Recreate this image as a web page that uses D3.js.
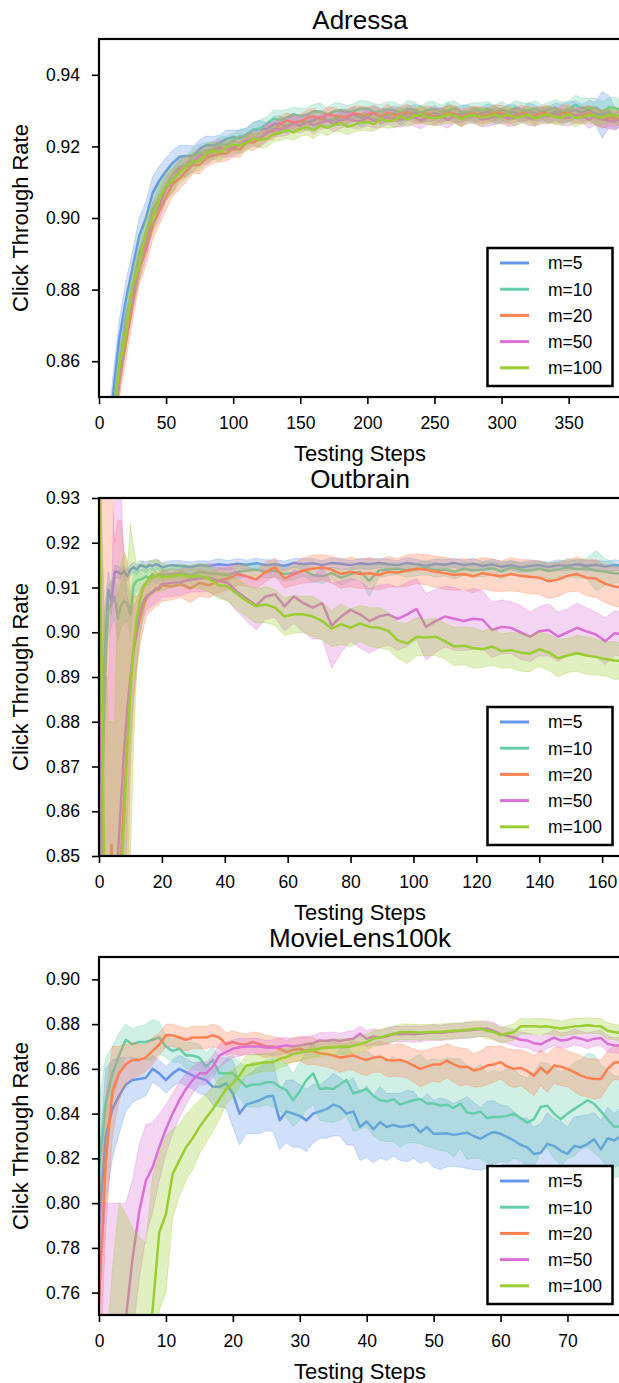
<!DOCTYPE html>
<html>
<head>
<meta charset="utf-8">
<script src="https://cdnjs.cloudflare.com/ajax/libs/d3/7.8.5/d3.min.js"></script>
<style>
  body { margin: 0; background: #fff; }
  svg { display: block; font-family: "Liberation Sans", Arial, sans-serif; }
</style>
</head>
<body>
<div class="chart"></div>
<script>
// Click through rate vs testing steps, three datasets, five values of m

var seriesNames = ['m=5', 'm=10', 'm=20', 'm=50', 'm=100'];
var seriesColors = ['#6495ed', '#66cdaa', '#ff7f50', '#da70d6', '#9acd32'];

// ---- Adressa ----
var adressaSteps = [0,5,10,15,20,25,30,35,40,45,
  50,55,60,65,70,75,80,85,90,95,
  100,105,110,115,120,125,130,135,140,145,
  150,155,160,165,170,175,180,185,190,195,
  200,205,210,215,220,225,230,235,240,245,
  250,255,260,265,270,275,280,285,290,295,
  300,305,310,315,320,325,330,335,340,345,
  350,355,360,365,370,375,380,385,390];
var adressaXTicks = [0, 50, 100, 150, 200, 250, 300, 350];
var adressaYTicks = [0.86, 0.88, 0.90, 0.92, 0.94];

var adressaM5 = [.800,.828,.849,.866,.877,.886,.895,.900,.907,.9105,
  .9131,.9154,.9171,.9173,.9173,.9192,.9204,.9203,.921,.9221,
  .9226,.9223,.9233,.9246,.9249,.9248,.9261,.9263,.9256,.9266,
  .927,.9267,.9273,.9282,.9273,.9274,.9282,.9282,.929,.928,
  .9284,.9293,.9283,.9289,.9293,.9283,.9293,.9295,.929,.9287,
  .9294,.9285,.9298,.9289,.929,.9296,.9286,.9293,.9297,.9288,
  .9287,.9294,.9296,.9286,.9299,.9293,.9289,.9288,.9297,.9292,
  .9296,.9302,.9294,.9303,.9292,.9288,.9297,.9275,.9283];
var adressaM10 = [.795,.821,.843,.858,.872,.880,.890,.895,.9025,.9055,
  .909,.9122,.9144,.9144,.9172,.9181,.9187,.9191,.9205,.9205,
  .9216,.9229,.9227,.9247,.9249,.9263,.9277,.9273,.9281,.929,
  .9284,.9289,.9298,.9297,.9288,.9298,.9301,.9296,.9299,.9306,
  .9306,.9295,.9298,.9304,.9301,.9296,.9305,.9303,.9294,.9302,
  .9305,.9297,.9301,.9307,.9296,.9294,.9302,.93,.9306,.9295,
  .9304,.9295,.9308,.9299,.93,.9306,.9296,.9303,.9307,.9298,
  .9303,.9316,.9307,.9309,.9309,.9296,.9309,.9307,.9297];
var adressaM20 = [.790,.816,.837,.854,.865,.876,.886,.891,.898,.902,
  .9058,.9096,.911,.9131,.9149,.9148,.9168,.9175,.9179,.9181,
  .9193,.9191,.9212,.9211,.9221,.924,.9243,.9262,.9272,.9267,
  .9269,.9279,.9284,.9276,.929,.9286,.9283,.9283,.9293,.9288,
  .929,.9293,.9283,.9294,.9286,.9292,.9296,.9284,.9287,.9293,
  .9284,.9287,.9294,.9291,.9281,.929,.9292,.9286,.9288,.9294,
  .9295,.9284,.9287,.9293,.929,.9285,.9294,.9292,.9283,.9291,
  .9294,.9285,.9287,.9294,.9281,.9276,.928,.9276,.9284];
var adressaM50 = [.792,.820,.839,.855,.869,.878,.887,.893,.9005,.9035,
  .9083,.9104,.9137,.9143,.9154,.9175,.9175,.9187,.9196,.9192,
  .9196,.9204,.9216,.9223,.9221,.9238,.9248,.9248,.9254,.9263,
  .9258,.9268,.9259,.9267,.9272,.9263,.9274,.9277,.9272,.927,
  .9281,.9271,.9274,.9281,.9278,.9274,.9283,.9281,.9272,.9281,
  .9281,.9284,.9274,.9285,.9277,.9283,.9287,.9275,.9278,.9284,
  .9285,.9277,.9282,.9289,.9279,.9278,.9287,.9285,.9292,.9281,
  .928,.9287,.9287,.9274,.9285,.9277,.9271,.927,.928];
var adressaM100 = [.793,.819,.841,.858,.868,.881,.887,.896,.900,.9055,
  .9091,.9105,.9128,.9144,.9156,.9161,.918,.9188,.9184,.9197,
  .9205,.9202,.9211,.9222,.9218,.9222,.9234,.9237,.9246,.9239,
  .9248,.9254,.9245,.9258,.9252,.926,.9265,.9255,.926,.9267,
  .9268,.9262,.9277,.927,.9274,.9283,.9275,.9285,.929,.9281,
  .9279,.9282,.9289,.9286,.9276,.9285,.9287,.9281,.9283,.9289,
  .9282,.929,.9279,.9285,.9288,.9277,.9287,.9289,.9283,.928,
  .929,.9279,.9282,.9288,.9285,.928,.9289,.9287,.9278];

var adressaSd5 = [.005,.005,.0055,.005,.0052,.0048,.005,.0046,.0045,.004,
  .0038,.0035,.0032,.003,.0028,.0026,.0025,.0024,.0022,.0024,
  .002,.0023,.0019,.0022,.0024,.0018,.0022,.0023,.0019,.0021,
  .0018,.0022,.0024,.0019,.0021,.0018,.0023,.002,.0019,.0024,
  .002,.0019,.0023,.0018,.002,.0024,.0019,.0022,.0023,.0018,
  .0021,.0019,.0023,.002,.0024,.0019,.0021,.0018,.0022,.0024,
  .0019,.0023,.002,.0019,.0024,.0021,.0018,.0022,.0024,.0026,
  .0027,.0025,.0023,.0026,.0032,.0065,.0045,.0028,.0022];
var adressaSd10 = [.0045,.0045,.005,.0046,.0048,.0044,.0045,.0042,.004,.0038,
  .0034,.0032,.003,.0028,.0026,.0025,.0024,.0023,.0021,.0023,
  .002,.0019,.0023,.002,.0024,.002,.0025,.0027,.0022,.002,
  .0022,.0019,.002,.0024,.0019,.0023,.002,.0018,.0021,.0023,
  .002,.0024,.0019,.0021,.0023,.0019,.0024,.002,.0019,.0022,
  .002,.0018,.0023,.002,.0019,.0024,.002,.0022,.0019,.002,
  .0022,.0019,.002,.0024,.0019,.0022,.002,.0019,.0024,.0026,
  .0024,.0027,.0028,.0025,.0026,.0029,.0027,.003,.0027];
var adressaSd20 = [.005,.005,.0052,.0048,.0047,.0046,.0045,.0042,.004,.0038,
  .0036,.0034,.0031,.0028,.0026,.0025,.0024,.0023,.0023,.0022,
  .0023,.0021,.002,.0023,.0019,.0022,.0024,.002,.0022,.0019,
  .002,.0023,.0022,.0019,.002,.0023,.0019,.0022,.002,.0024,
  .0019,.0022,.002,.0024,.0019,.002,.0022,.0019,.0023,.002,
  .0022,.0019,.002,.0024,.0022,.0019,.002,.0023,.0019,.0022,
  .002,.0023,.0019,.0022,.002,.0024,.0019,.0022,.002,.0023,
  .0022,.0019,.0024,.002,.0022,.0025,.0023,.0022,.002];
var adressaSd50 = [.0048,.0048,.0052,.0047,.0046,.0045,.0044,.0042,.004,.0037,
  .0035,.0032,.003,.0028,.0026,.0025,.0025,.0024,.0023,.0023,
  .0022,.0023,.002,.0022,.0023,.0025,.0021,.002,.0023,.0022,
  .002,.0022,.0024,.002,.0019,.0022,.0024,.002,.0022,.0019,
  .0024,.002,.0022,.0019,.0024,.002,.0022,.0025,.0023,.002,
  .0022,.0025,.0023,.002,.0022,.0019,.0024,.002,.0022,.0023,
  .002,.0022,.0024,.0019,.0022,.002,.0024,.0022,.002,.0022,
  .0023,.0022,.002,.0024,.0025,.0023,.0022,.0024,.002];
var adressaSd100 = [.0048,.0048,.0052,.0049,.0047,.0046,.0046,.0044,.0042,.004,
  .0038,.0035,.0032,.003,.0028,.0027,.0026,.0025,.0024,.0023,
  .0023,.0022,.0024,.002,.0022,.0024,.0022,.002,.0024,.0022,
  .002,.0022,.0024,.002,.0022,.002,.0024,.0022,.002,.0022,
  .0024,.002,.0022,.0019,.0022,.0024,.002,.0022,.0024,.002,
  .0022,.002,.0024,.0022,.002,.0019,.0022,.0024,.002,.0022,
  .002,.0024,.0022,.002,.0024,.0022,.002,.0024,.0022,.002,
  .0022,.0024,.002,.0022,.0024,.002,.0022,.0024,.002];

// ---- Outbrain ----
var outbrainSteps = [0,1,2,3,4,5,6,7,8,9,
  10,11,12,13,14,15,16,17,18,19,
  20,23,26,29,32,35,38,41,44,47,
  50,53,56,59,62,65,68,71,74,77,
  80,83,86,89,92,95,98,101,104,107,
  110,113,116,119,122,125,128,131,134,137,
  140,143,146,149,152,155,158,161,164,167];
var outbrainXTicks = [0, 20, 40, 60, 80, 100, 120, 140, 160];
var outbrainYTicks = [0.85, 0.86, 0.87, 0.88, 0.89, 0.90, 0.91, 0.92, 0.93];

var outbrainM5 = [.865,.880,.897,.9095,.907,.9135,.9135,.913,.9137,.9125,
  .914,.9145,.914,.915,.9148,.9145,.915,.9148,.9152,.915,
  .9145,.915,.9148,.9146,.915,.9148,.9152,.915,.9153,.9151,
  .9154,.915,.9152,.9148,.9155,.9152,.9154,.915,.9155,.9153,
  .915,.9154,.9152,.9155,.9152,.915,.9155,.9152,.9148,.9153,
  .9151,.9155,.915,.9153,.9148,.9152,.9146,.915,.9145,.9148,
  .915,.9146,.915,.9148,.9152,.9148,.9151,.9147,.915,.9148];
var outbrainM10 = [.840,.865,.893,.905,.9065,.908,.903,.906,.907,.9065,
  .904,.9105,.9115,.9118,.912,.9125,.912,.913,.9125,.913,
  .9128,.913,.9132,.9128,.9135,.9132,.913,.9128,.9135,.9138,
  .914,.9135,.9138,.913,.9132,.9138,.9128,.9125,.9132,.9122,
  .913,.9135,.9115,.9138,.914,.9142,.9138,.914,.9145,.9138,
  .914,.9135,.9142,.9138,.914,.9143,.9136,.9145,.914,.9138,
  .9142,.9137,.914,.9145,.9141,.9143,.9138,.9135,.9132,.913];
var outbrainM20 = [.845,.82,.815,.83,.8525,.83,.835,.85,.863,.876,
  .889,.896,.900,.903,.9055,.9075,.9085,.909,.9098,.9095,
  .9105,.9102,.9108,.9098,.911,.9105,.9115,.912,.913,.9125,
  .9118,.9135,.9145,.912,.913,.9138,.9142,.9145,.914,.913,
  .9135,.913,.9132,.9128,.9135,.9133,.9138,.9142,.914,.9135,
  .9132,.9128,.913,.9125,.9132,.9128,.9125,.913,.9126,.9124,
  .9122,.9114,.9118,.9126,.913,.9122,.912,.9108,.9102,.910];
var outbrainM50 = [.92,.86,.80,.79,.80,.835,.85,.862,.874,.883,
  .890,.896,.900,.9045,.9068,.908,.9085,.909,.9095,.910,
  .9108,.911,.9112,.9118,.912,.9122,.9115,.911,.909,.9075,
  .906,.908,.9085,.9058,.908,.9065,.9055,.9065,.9015,.9035,
  .905,.904,.9025,.9035,.904,.903,.904,.9052,.9012,.9025,
  .9035,.903,.9025,.903,.9028,.9005,.9012,.901,.900,.899,
  .9002,.9005,.899,.900,.901,.9002,.8995,.898,.8998,.8995];
var outbrainM100 = [.935,.88,.83,.80,.80,.805,.82,.845,.858,.874,
  .887,.897,.903,.907,.9098,.911,.912,.9122,.9125,.9127,
  .9123,.9125,.9128,.9124,.9126,.912,.9105,.9102,.9085,.907,
  .9058,.9062,.9055,.9035,.904,.904,.9035,.9025,.9008,.9018,
  .901,.902,.9012,.901,.9003,.8982,.8975,.899,.8988,.899,
  .898,.8968,.897,.8965,.8962,.8968,.8958,.896,.8955,.8952,
  .8962,.8955,.8942,.8948,.8953,.8948,.8945,.894,.8937,.8935];

var outbrainSd5 = [.02,.015,.01,.004,.003,.0015,.0013,.0012,.0012,.0013,
  .0012,.0011,.0012,.001,.0011,.0012,.001,.0011,.0012,.001,
  .0011,.001,.0012,.0011,.001,.0011,.0012,.001,.0011,.001,
  .0011,.0012,.001,.0011,.001,.0012,.0011,.001,.0011,.0012,
  .001,.0011,.0012,.001,.0011,.001,.0012,.0011,.001,.0011,
  .0012,.001,.0011,.0012,.001,.0011,.0012,.001,.0011,.0012,
  .001,.0011,.0012,.001,.0011,.0012,.001,.0011,.0012,.001];
var outbrainSd10 = [.03,.02,.012,.006,.005,.005,.005,.005,.005,.004,
  .004,.003,.0025,.002,.002,.0018,.0016,.0015,.0015,.0014,
  .0014,.0013,.0014,.0015,.0013,.0014,.0015,.0013,.0014,.0015,
  .0014,.0013,.0015,.0016,.0014,.0013,.0015,.0016,.0014,.0017,
  .0015,.0014,.0035,.0016,.0014,.0013,.0015,.0014,.0016,.0015,
  .0014,.0016,.0015,.0014,.0016,.0015,.0017,.0016,.0015,.0018,
  .0016,.0018,.0017,.0019,.002,.0022,.0045,.003,.0022,.002];
var outbrainSd20 = [.06,.12,.12,.11,.08,.09,.09,.075,.055,.04,
  .02,.012,.008,.006,.005,.004,.004,.004,.004,.0035,
  .0035,.003,.003,.0032,.003,.0028,.0027,.0025,.0025,.0022,
  .002,.0022,.002,.0021,.0025,.0028,.003,.0028,.003,.0032,
  .0033,.0032,.0035,.0033,.0034,.0032,.0035,.0033,.0034,.0035,
  .0036,.0034,.0035,.0037,.0035,.0036,.0034,.0037,.0036,.0038,
  .0037,.0039,.0038,.0036,.0038,.004,.0042,.0042,.0044,.0045];
var outbrainSd50 = [.03,.06,.09,.10,.11,.10,.085,.07,.04,.025,
  .015,.01,.007,.005,.004,.003,.003,.003,.003,.003,
  .003,.003,.003,.0028,.003,.0032,.0035,.004,.0045,.005,
  .0055,.005,.0052,.0055,.006,.0065,.007,.008,.0095,.008,
  .007,.0075,.0072,.007,.0068,.007,.0072,.0068,.0075,.007,
  .0068,.007,.0066,.0068,.0065,.0062,.006,.0058,.006,.0056,
  .0055,.0058,.0055,.0052,.0055,.0053,.005,.0052,.005,.0048];
var outbrainSd100 = [.01,.04,.07,.08,.08,.075,.09,.07,.06,.04,
  .037,.022,.012,.008,.006,.004,.004,.004,.0035,.0035,
  .003,.0025,.0025,.0025,.0028,.003,.003,.0032,.0035,.0035,
  .0038,.004,.004,.0042,.0042,.004,.0045,.0042,.004,.0045,
  .0042,.004,.0043,.0045,.0042,.004,.0045,.0043,.004,.0042,
  .004,.0043,.0042,.0045,.004,.0042,.0038,.004,.0042,.004,
  .0038,.004,.0042,.0038,.004,.0042,.004,.0038,.0042,.004];

// ---- MovieLens100k ----
var movieSteps = [0,1,2,3,4,5,6,7,8,9,
  10,11,12,13,14,15,16,17,18,19,
  20,21,22,23,24,25,26,27,28,29,
  30,31,32,33,34,35,36,37,38,39,
  40,41,42,43,44,45,46,47,48,49,
  50,51,52,53,54,55,56,57,58,59,
  60,61,62,63,64,65,66,67,68,69,
  70,71,72,73,74,75,76,77,78];
var movieXTicks = [0, 10, 20, 30, 40, 50, 60, 70];
var movieYTicks = [0.76, 0.78, 0.80, 0.82, 0.84, 0.86, 0.88, 0.90];

var movieM5 = [.790,.830,.842,.848,.853,.855,.8555,.856,.860,.858,
  .855,.858,.860,.8585,.857,.856,.855,.852,.852,.8535,
  .849,.840,.844,.845,.846,.8475,.848,.837,.841,.840,
  .839,.837,.840,.841,.842,.844,.843,.840,.841,.834,
  .8365,.833,.8362,.834,.835,.834,.8345,.835,.8317,.834,
  .831,.831,.8312,.8305,.831,.8315,.830,.8287,.8305,.8318,
  .831,.8295,.828,.826,.8249,.822,.8225,.8265,.8255,.8234,
  .822,.8255,.825,.8264,.8285,.824,.829,.828,.830];
var movieM10 = [.815,.845,.858,.866,.873,.871,.872,.872,.873,.874,
  .870,.868,.869,.866,.866,.865,.861,.864,.858,.858,
  .858,.855,.852,.853,.853,.854,.854,.852,.8505,.846,
  .850,.855,.858,.851,.8515,.851,.853,.855,.849,.850,
  .851,.848,.846,.8455,.8465,.844,.845,.846,.8465,.8445,
  .8445,.8435,.844,.8425,.8445,.8405,.840,.841,.838,.8385,
  .8385,.839,.840,.838,.836,.8375,.843,.8435,.840,.8375,
  .840,.842,.844,.846,.8443,.841,.8375,.834,.8345];
var movieM20 = [.755,.818,.850,.858,.862,.864,.864,.865,.868,.871,
  .875,.875,.874,.873,.874,.874,.874,.875,.874,.871,
  .872,.871,.871,.872,.871,.870,.870,.869,.8675,.8685,
  .869,.868,.868,.867,.8667,.866,.865,.8655,.866,.8648,
  .864,.865,.8655,.864,.8637,.864,.863,.8615,.860,.861,
  .862,.862,.8637,.862,.8608,.861,.8593,.860,.8615,.862,
  .863,.861,.860,.8605,.859,.857,.8605,.858,.8615,.861,
  .860,.8585,.857,.856,.8555,.8555,.860,.8628,.863];
var movieM50 = [.70,.71,.72,.735,.748,.775,.796,.81,.816,.825,
  .833,.840,.846,.851,.855,.858,.858,.861,.866,.8675,
  .869,.8697,.870,.870,.870,.8695,.8695,.870,.8705,.870,
  .8705,.871,.8715,.8727,.8725,.873,.8725,.873,.8735,.8757,
  .8735,.8745,.874,.8745,.8757,.8755,.8757,.8755,.8757,.876,
  .8763,.876,.8765,.8767,.877,.8772,.8775,.8778,.878,.877,
  .8755,.8748,.874,.873,.8727,.8715,.871,.8725,.874,.8727,
  .873,.8742,.8735,.8725,.8735,.8738,.8712,.8705,.8705];
var movieM100 = [.66,.67,.69,.71,.715,.72,.725,.735,.752,.787,
  .795,.813,.819,.825,.829,.834,.838,.842,.8465,.851,
  .8535,.857,.8615,.862,.8625,.863,.863,.8645,.8652,.8667,
  .8672,.868,.8685,.869,.8697,.8695,.870,.8698,.8703,.871,
  .872,.8735,.874,.875,.8755,.8765,.8765,.8765,.8762,.8765,
  .8765,.8765,.8768,.877,.8772,.8775,.8778,.878,.877,.8765,
  .875,.8758,.8765,.879,.879,.879,.8788,.879,.8785,.878,
  .8785,.879,.8792,.8795,.8792,.879,.877,.8765,.876];

var movieSd5 = [.03,.03,.022,.017,.012,.01,.009,.008,.006,.006,
  .006,.006,.006,.006,.006,.007,.007,.008,.009,.011,
  .015,.014,.013,.014,.015,.015,.016,.013,.014,.015,
  .014,.014,.013,.012,.013,.014,.013,.014,.015,.015,
  .016,.015,.016,.015,.014,.015,.016,.015,.014,.015,
  .015,.016,.015,.014,.015,.016,.015,.014,.015,.014,
  .013,.014,.013,.012,.013,.012,.013,.014,.012,.013,
  .012,.013,.014,.013,.012,.013,.014,.012,.013];
var movieSd10 = [.03,.02,.012,.01,.007,.007,.007,.008,.009,.007,
  .005,.005,.006,.006,.006,.006,.006,.006,.007,.007,
  .008,.008,.009,.01,.01,.01,.011,.011,.012,.012,
  .013,.013,.014,.014,.015,.015,.016,.016,.017,.017,
  .017,.018,.018,.018,.019,.019,.018,.019,.02,.019,
  .02,.02,.021,.022,.02,.021,.02,.021,.02,.021,
  .02,.021,.02,.019,.02,.021,.02,.019,.02,.021,
  .02,.021,.02,.021,.022,.021,.022,.023,.022];
var movieSd20 = [.04,.03,.02,.012,.009,.008,.007,.006,.006,.005,
  .005,.005,.005,.005,.005,.005,.005,.005,.005,.005,
  .005,.005,.0045,.0045,.005,.005,.0045,.005,.005,.0055,
  .0055,.006,.006,.0055,.006,.006,.0065,.006,.0065,.007,
  .007,.0065,.007,.0075,.007,.0075,.007,.0075,.008,.0075,
  .0075,.008,.0075,.008,.0085,.008,.0075,.008,.0085,.008,
  .0075,.008,.0085,.008,.0085,.009,.008,.0085,.008,.0085,
  .008,.0085,.009,.0085,.009,.0085,.008,.0075,.008];
var movieSd50 = [.1,.09,.08,.065,.052,.035,.03,.025,.02,.015,
  .011,.009,.008,.007,.006,.005,.005,.005,.005,.0045,
  .004,.004,.0035,.0038,.0035,.0032,.0035,.0038,.0035,.0033,
  .0035,.0036,.0034,.0035,.0037,.0035,.0033,.0036,.0035,.0034,
  .0036,.0035,.0033,.0035,.0036,.0034,.0035,.0037,.0035,.0034,
  .0035,.0033,.0036,.0035,.0034,.0036,.0035,.0033,.0035,.0036,
  .0035,.0034,.0036,.0035,.0033,.0035,.0036,.0034,.0035,.0033,
  .0035,.0036,.0034,.0035,.0033,.0035,.0036,.0034,.0035];
var movieSd100 = [.06,.06,.08,.09,.08,.069,.06,.047,.06,.035,
  .035,.02,.016,.015,.014,.012,.011,.01,.009,.007,
  .006,.005,.0045,.0045,.004,.004,.0042,.004,.0038,.0035,
  .0035,.0036,.0034,.0035,.0033,.0035,.0036,.0034,.0035,.0036,
  .0035,.0034,.0036,.0035,.0033,.0035,.0036,.0034,.0035,.0033,
  .0035,.0036,.0034,.0035,.0033,.0035,.0036,.0034,.0035,.0036,
  .0035,.0034,.0036,.0035,.0033,.0035,.0036,.0034,.0035,.0033,
  .0035,.0036,.0034,.0035,.0033,.0035,.0036,.0034,.0035];

var panels = [
  { title: 'Adressa', steps: adressaSteps, xMax: 389, yDomain: [0.85, 0.95],
    xTicks: adressaXTicks, yTicks: adressaYTicks, top: 39,
    means: [adressaM5, adressaM10, adressaM20, adressaM50, adressaM100],
    sds: [adressaSd5, adressaSd10, adressaSd20, adressaSd50, adressaSd100] },
  { title: 'Outbrain', steps: outbrainSteps, xMax: 166, yDomain: [0.85, 0.93],
    xTicks: outbrainXTicks, yTicks: outbrainYTicks, top: 498,
    means: [outbrainM5, outbrainM10, outbrainM20, outbrainM50, outbrainM100],
    sds: [outbrainSd5, outbrainSd10, outbrainSd20, outbrainSd50, outbrainSd100] },
  { title: 'MovieLens100k', steps: movieSteps, xMax: 78, yDomain: [0.75, 0.91],
    xTicks: movieXTicks, yTicks: movieYTicks, top: 957,
    means: [movieM5, movieM10, movieM20, movieM50, movieM100],
    sds: [movieSd5, movieSd10, movieSd20, movieSd50, movieSd100] }
];

var left = 99, plotW = 522, plotH = 358;

var svg = d3.select('.chart').append('svg')
  .attr('width', 619)
  .attr('height', 1383);

var styleAxis = function(sel) {
  sel.select('.domain').remove();
  sel.selectAll('.tick line')
    .attr('stroke', '#000')
    .attr('stroke-width', 1.6);
  sel.selectAll('.tick text')
    .attr('fill', '#000')
    .style('font-size', '17.5px')
    .style('font-family', '"Liberation Sans", Arial, sans-serif');
};

panels.forEach(function(p, k) {
  var g = svg.append('g')
    .attr('transform', 'translate(' + left + ',' + p.top + ')');

  var x = d3.scaleLinear().domain([0, p.xMax]).range([0, plotW]);
  var y = d3.scaleLinear().domain(p.yDomain).range([plotH, 0]);

  g.append('clipPath')
    .attr('id', 'clip' + k)
    .append('rect')
      .attr('width', plotW)
      .attr('height', plotH);

  var plot = g.append('g').attr('clip-path', 'url(#clip' + k + ')');

  p.means.forEach(function(m, j) {
    var pts = p.steps.map(function(s, i) {
      return { s: s, m: m[i], sd: p.sds[j][i] };
    });
    var band = d3.area()
      .x(function(d) { return x(d.s); })
      .y0(function(d) { return y(d.m - d.sd); })
      .y1(function(d) { return y(d.m + d.sd); });
    var line = d3.line()
      .x(function(d) { return x(d.s); })
      .y(function(d) { return y(d.m); });

    plot.append('path')
      .datum(pts)
      .attr('d', band)
      .attr('fill', seriesColors[j])
      .attr('fill-opacity', 0.3)
      .attr('stroke', seriesColors[j])
      .attr('stroke-opacity', 0.3)
      .attr('stroke-width', 1);

    plot.append('path')
      .datum(pts)
      .attr('d', line)
      .attr('fill', 'none')
      .attr('stroke', seriesColors[j])
      .attr('stroke-width', 2.5)
      .attr('stroke-linejoin', 'round');
  });

  g.append('g')
    .attr('transform', 'translate(0,' + plotH + ')')
    .call(d3.axisBottom(x).tickValues(p.xTicks).tickSize(7).tickPadding(13).tickFormat(d3.format('d')))
    .call(styleAxis);

  g.append('g')
    .call(d3.axisLeft(y).tickValues(p.yTicks).tickSize(7).tickPadding(12).tickFormat(d3.format('.2f')))
    .call(styleAxis);

  g.append('rect')
    .attr('width', plotW)
    .attr('height', plotH)
    .attr('fill', 'none')
    .attr('stroke', '#000')
    .attr('stroke-width', 2.2);

  g.append('text')
    .attr('x', plotW / 2)
    .attr('y', -10.5)
    .attr('text-anchor', 'middle')
    .style('font-size', '26px')
    .text(p.title);

  g.append('text')
    .attr('x', plotW / 2)
    .attr('y', plotH + 63.5)
    .attr('text-anchor', 'middle')
    .style('font-size', '22px')
    .text('Testing Steps');

  g.append('text')
    .attr('transform', 'translate(-71,' + (plotH / 2) + ') rotate(-90)')
    .attr('text-anchor', 'middle')
    .style('font-size', '22px')
    .text('Click Through Rate');

  // legend, lower right
  var legend = g.append('g')
    .attr('transform', 'translate(388.5,' + (plotH - 149) + ')');

  legend.append('rect')
    .attr('width', 125)
    .attr('height', 138)
    .attr('fill', '#fff')
    .attr('stroke', '#000')
    .attr('stroke-width', 2.5);

  var rows = legend.selectAll('.row')
    .data(seriesNames)
    .enter()
    .append('g')
      .attr('class', 'row')
      .attr('transform', function(d, i) {
        return 'translate(0,' + (15 + i * 26.2) + ')';
      });

  rows.append('line')
    .attr('x1', 12.5)
    .attr('x2', 41.5)
    .attr('stroke', function(d, i) { return seriesColors[i]; })
    .attr('stroke-width', 3);

  rows.append('text')
    .attr('x', 60.5)
    .attr('y', 6.3)
    .style('font-size', '17.5px')
    .text(function(d) { return d; });
});
</script>
</body>
</html>
